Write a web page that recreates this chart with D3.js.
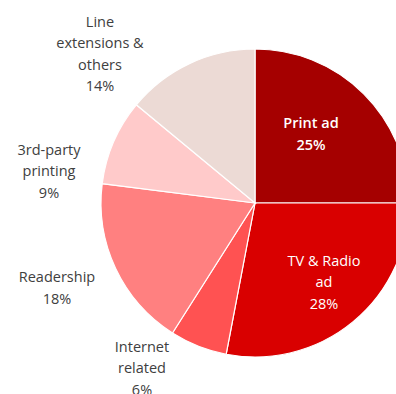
<!DOCTYPE html>
<html>
<head>
<meta charset="utf-8">
<script src="https://cdn.jsdelivr.net/npm/d3@7"></script>
<style>
  body { margin: 0; background: #fff; }
  svg { display: block; }
</style>
</head>
<body>
<div id="chart"></div>
<script>
// chart size
var svgWidth = 396;
var svgHeight = 394;

// data
var categories = ["Print ad", "TV & Radio ad", "Internet related", "Readership", "3rd-party printing", "Line extensions & others"];
var shares = [25, 28, 6, 18, 9, 14];
var labelLines = [
  ["Print ad"],
  ["TV & Radio", "ad"],
  ["Internet", "related"],
  ["Readership"],
  ["3rd-party", "printing"],
  ["Line", "extensions &", "others"]
];
var colors = ["#a50000", "#d90000", "#ff5252", "#ff8080", "#ffcaca", "#ecdad5"];

var cx = 255, cy = 203, radius = 154;

// label anchor points (centre of the text block)
var labelPos = [
  [311, 134],
  [324, 282],
  [142, 368],
  [57, 288],
  [49, 171],
  [100, 54]
];
var lineH = 21.5;

var svg = d3.select("#chart")
  .append("svg")
  .attr("width", svgWidth)
  .attr("height", svgHeight);

var data = categories.map(function(c, i) {
  return { name: c, value: shares[i], lines: labelLines[i], color: colors[i], pos: labelPos[i], i: i };
});

var pie = d3.pie().sort(null).value(function(d) { return d.value; });
var arc = d3.arc().innerRadius(0).outerRadius(radius);

var g = svg.append("g").attr("transform", "translate(" + cx + "," + cy + ")");

g.selectAll("path")
  .data(pie(data))
  .enter().append("path")
  .attr("d", arc)
  .attr("fill", function(d) { return d.data.color; })
  .attr("stroke", "#fff")
  .attr("stroke-width", 1.2);

// labels
var labels = svg.selectAll(".lbl")
  .data(data)
  .enter().append("text")
  .attr("class", "lbl")
  .attr("text-anchor", "middle")
  .attr("font-family", "'Open Sans', sans-serif")
  .attr("font-size", "14.5px")
  .attr("fill", function(d) { return d.i < 2 ? "#ffffff" : "#404040"; })
  .attr("font-weight", function(d) { return d.i === 0 ? "600" : "normal"; });

labels.each(function(d) {
  var t = d3.select(this);
  var all = d.lines.concat([d.value + "%"]);
  var top = d.pos[1] - (all.length - 1) * lineH / 2;
  all.forEach(function(line, k) {
    t.append("tspan")
      .attr("x", d.pos[0])
      .attr("y", top + k * lineH)
      .attr("dy", "0.35em")
      .text(line);
  });
});
</script>
</body>
</html>
